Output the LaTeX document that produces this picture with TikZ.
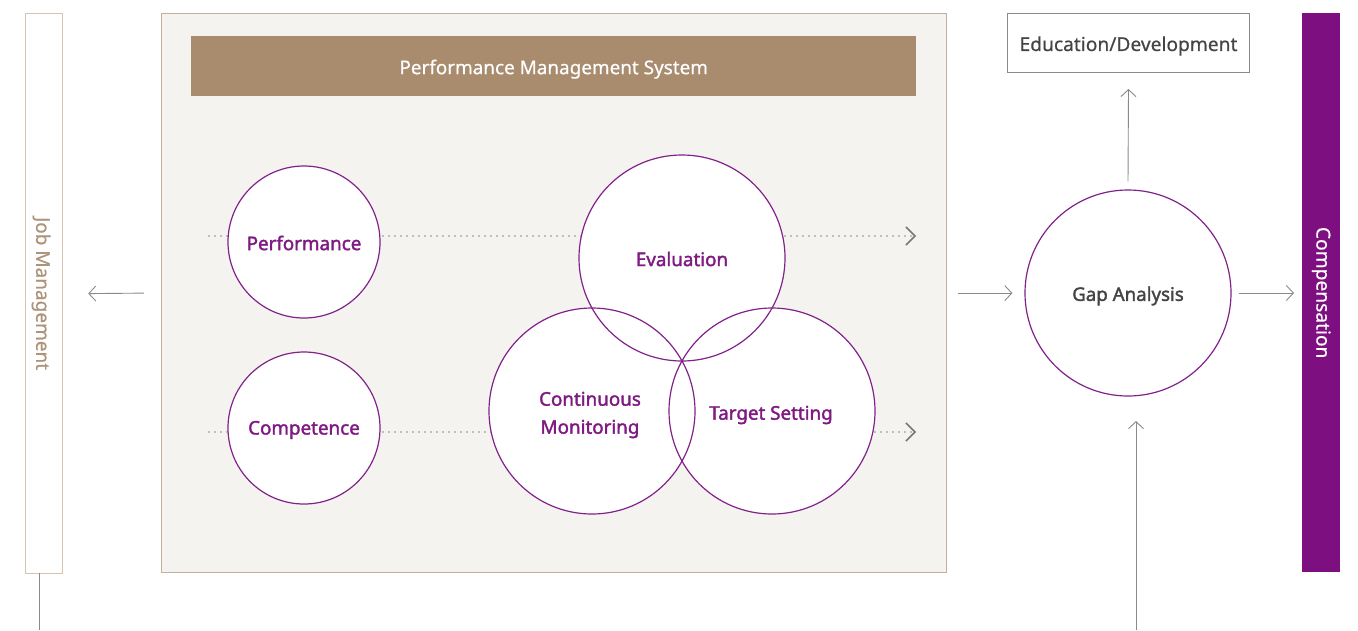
\documentclass[tikz,border=0pt]{standalone}
\usepackage{fontspec}
\setmainfont[FakeBold=0.5]{Noto Sans}
\newfontfamily\semib[FakeBold=1.8]{Noto Sans}
\usetikzlibrary{arrows.meta}
\definecolor{tanfill}{HTML}{A98C6E}
\definecolor{boxfill}{HTML}{F5F3F0}
\definecolor{boxline}{HTML}{C6AF98}
\definecolor{jobline}{HTML}{D6C3B2}
\definecolor{jobtext}{HTML}{AD937A}
\definecolor{purp}{HTML}{7E0F80}
\definecolor{circline}{HTML}{80228A}
\definecolor{circtext}{HTML}{7E1A82}
\definecolor{arrgray}{HTML}{8A8A8A}
\definecolor{dotgray}{HTML}{8A8A8A}
\definecolor{tipgray}{HTML}{777777}
\definecolor{darktext}{HTML}{444444}
\tikzset{
  arr/.style={draw=arrgray, line width=0.9pt, -{Straight Barb[length=7pt,width=15pt,line width=0.9pt]}},
  dotline/.style={draw=dotgray, line width=1.7pt, line cap=round, dash pattern=on 0pt off 6pt,
     -{Straight Barb[length=9pt,width=18pt,line width=1.5pt,color=tipgray]}},
  circfill/.style={circle, fill=white, draw=none, inner sep=0pt},
  circnode/.style={circle, draw=circline, line width=1.2pt, inner sep=0pt},
  circtxt/.style={text=circtext, font=\semib\fontsize{18.8}{28}\selectfont, align=center},
  bigcirc/.style={minimum size=206pt},
  smallcirc/.style={minimum size=152pt},
}
\begin{document}
\begin{tikzpicture}[x=1pt,y=-1pt]
\useasboundingbox (0,0) rectangle (1358,630);
% left bar
\node[draw=jobline, line width=1.2pt, fill=white, minimum width=37pt, minimum height=560pt, inner sep=0pt,
  anchor=north west] (job) at (25,13) {};
\node[rotate=-90, text=jobtext, font=\fontsize{19}{22}\selectfont] (jobtxt) at ([xshift=-3pt]job.center) {Job Management};
% main box
\node[draw=boxline, line width=1.2pt, fill=boxfill, minimum width=785pt, minimum height=559pt, inner sep=0pt,
  anchor=north west] (main) at (161,13) {};
\node[fill=tanfill, minimum width=725pt, minimum height=60pt, inner sep=0pt, anchor=north west] (title) at (191,36) {};
\node[text=white, font=\fontsize{18.9}{22}\selectfont] (titletxt) at ([yshift=-3pt]title.center) {Performance Management System};
% dotted lines
\coordinate (d1s) at (209,236);
\coordinate (d1e) at (916,236);
\coordinate (d2s) at (209,432);
\coordinate (d2e) at (916,432);
\draw[dotline] (d1s) -- (d1e);
\draw[dotline] (d2s) -- (d2e);
% circle fills
\path (304,242) node[circfill,smallcirc] {};
\path (304,428) node[circfill,smallcirc] {};
\path (682,258) node[circfill,bigcirc] {};
\path (592,411) node[circfill,bigcirc] {};
\path (772,411) node[circfill,bigcirc] {};
% circle outlines
\node[circnode,smallcirc] (perf) at (304,242) {};
\node[circnode,smallcirc] (comp) at (304,428) {};
\node[circnode,bigcirc] (eval) at (682,258) {};
\node[circnode,bigcirc] (cont) at (592,411) {};
\node[circnode,bigcirc] (targ) at (772,411) {};
% circle texts
\node[circtxt] (perftxt) at ([yshift=-1pt]perf.center) {Performance};
\node[circtxt] (comptxt) at ([yshift=-2pt]comp.center) {Competence};
\node[circtxt] (evaltxt) at ([yshift=-1pt]eval.center) {Evaluation};
\node[circtxt] (conttxt) at (590,415) {Continuous\\Monitoring};
\node[circtxt] (targtxt) at (771,415) {Target Setting};
% gap analysis
\node[circle, draw=circline, line width=1.2pt, fill=white, bigcirc, inner sep=0pt] (gap) at (1128,293) {};
\node[text=darktext, font=\semib\fontsize{18.7}{23}\selectfont] (gaptxt) at ([yshift=-3pt]gap.center) {Gap Analysis};
% education box
\node[draw=arrgray, line width=1pt, fill=white, minimum width=242pt, minimum height=59pt, inner sep=0pt,
  anchor=north west] (edu) at (1007,13) {};
\node[text=darktext, font=\fontsize{19.2}{22}\selectfont] (edutxt) at ([yshift=-3pt]edu.center) {Education/Development};
% compensation bar
\node[fill=purp, minimum width=38pt, minimum height=559pt, inner sep=0pt, anchor=north west] (cbar) at (1302,13) {};
\node[rotate=-90, text=white, font=\fontsize{19.2}{22}\selectfont] (cbartxt) at (cbar.center) {Compensation};
% connectors
\draw[arr] ([xshift=-17pt]main.west) -- ([xshift=25pt]job.east);
\draw[arr] ([xshift=11pt]main.east) -- ([xshift=-12pt]main.east -| gap.west);
\draw[arr] ([xshift=7pt]gap.east) -- ([xshift=-8pt]gap.east -| cbar.west);
\draw[arr] ([yshift=8pt]gap.north) -- ([yshift=-16pt]edu.south);
\coordinate (botin) at (1136,630);
\coordinate (botend) at (1136,421);
\draw[arr] (botin) -- (botend);
\coordinate (jobleft) at (39.5,573);
\coordinate (jobbot) at (39.5,630);
\draw[draw=arrgray, line width=0.9pt] (jobleft) -- (jobbot);
\end{tikzpicture}
\end{document}
